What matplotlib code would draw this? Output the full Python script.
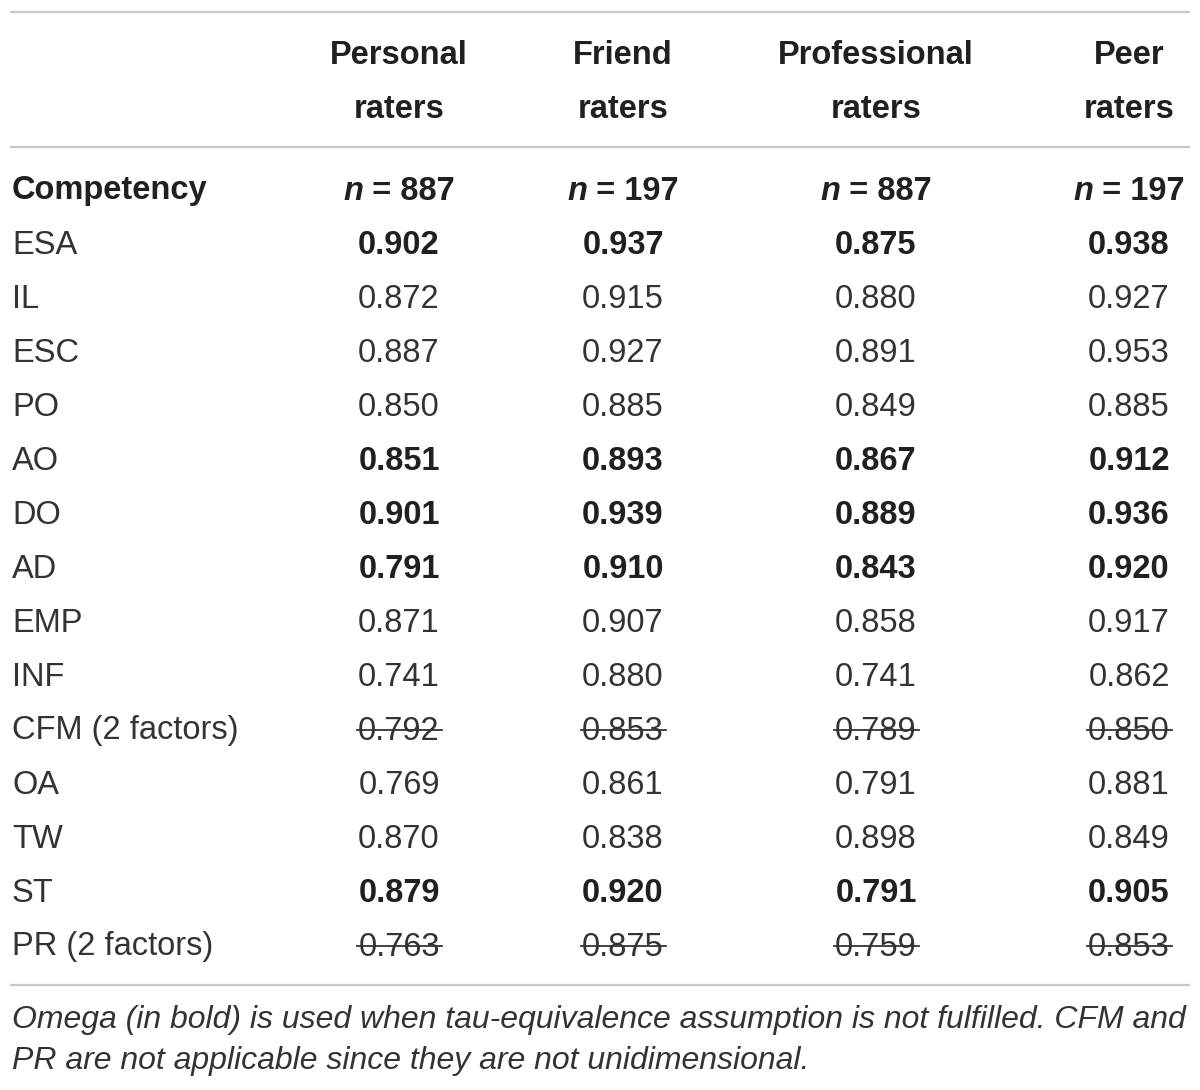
import matplotlib.pyplot as plt

# Table content
columns = ["Personal\nraters", "Friend\nraters", "Professional\nraters", "Peer\nraters"]
sample_sizes = ["887", "197", "887", "197"]
competencies = ["ESA", "IL", "ESC", "PO", "AO", "DO", "AD", "EMP", "INF",
                "CFM (2 factors)", "OA", "TW", "ST", "PR (2 factors)"]
personal = ["0.902", "0.872", "0.887", "0.850", "0.851", "0.901", "0.791", "0.871",
            "0.741", "0.792", "0.769", "0.870", "0.879", "0.763"]
friend = ["0.937", "0.915", "0.927", "0.885", "0.893", "0.939", "0.910", "0.907",
          "0.880", "0.853", "0.861", "0.838", "0.920", "0.875"]
professional = ["0.875", "0.880", "0.891", "0.849", "0.867", "0.889", "0.843", "0.858",
                "0.741", "0.789", "0.791", "0.898", "0.791", "0.759"]
peer = ["0.938", "0.927", "0.953", "0.885", "0.912", "0.936", "0.920", "0.917",
        "0.862", "0.850", "0.881", "0.849", "0.905", "0.853"]
omega_rows = ["ESA", "AO", "DO", "AD", "ST"]          # shown in bold
not_applicable = ["CFM (2 factors)", "PR (2 factors)"]  # struck through
footnote = ["Omega (in bold) is used when tau-equivalence assumption is not fulfilled. CFM and",
            "PR are not applicable since they are not unidimensional."]

plt.rcParams['font.family'] = ['Liberation Sans', 'DejaVu Sans']

ink = "#231f20"
light_ink = "#333333"
rule = "#c8c8c8"
fs = 23.5
dy = 3  # va='center' sits a bit high, nudge everything down

fig = plt.figure(figsize=(12, 10.9), dpi=100)
ax = fig.add_axes([0, 0, 1, 1])
ax.set_xlim(0, 1200)
ax.set_ylim(1090, 0)
ax.axis("off")

col_x = [399, 623, 876, 1129]
label_x = 12
row0 = 188
step = 54

# horizontal rules
for y in [12, 147, 985]:
    ax.plot([10, 1190], [y, y], color=rule, lw=1.6, solid_capstyle="butt")

# column headers
for x, c in zip(col_x, columns):
    top, bottom = c.split("\n")
    ax.text(x, 52 + dy, top, ha="center", va="center", fontsize=fs, fontweight="bold", color=ink)
    ax.text(x, 106 + dy, bottom, ha="center", va="center", fontsize=fs, fontweight="bold", color=ink)

# n row
ax.text(label_x, row0 + dy, "Competency", ha="left", va="center", fontsize=fs,
        fontweight="bold", color=ink)
n_parts = []
for x, n in zip(col_x, sample_sizes):
    a = ax.text(x, row0 + dy, "n", ha="left", va="center", fontsize=fs, fontweight="bold",
                style="italic", color=ink)
    b = ax.text(x, row0 + dy, f" = {n}", ha="left", va="center", fontsize=fs,
                fontweight="bold", color=ink)
    n_parts.append((x, a, b))

strikes = []
for i, comp in enumerate(competencies):
    y = row0 + step * (i + 1) + dy
    ax.text(label_x, y, comp, ha="left", va="center", fontsize=fs, color=light_ink)
    bold = comp in omega_rows
    for x, vals in zip(col_x, [personal, friend, professional, peer]):
        t = ax.text(x, y, vals[i], ha="center", va="center", fontsize=fs,
                    fontweight="bold" if bold else "normal",
                    color=ink if bold else light_ink)
        if comp in not_applicable:
            strikes.append(t)

for k, line in enumerate(footnote):
    ax.text(label_x, 1017 + 41 * k + dy, line, ha="left", va="center", fontsize=fs - 0.5,
            style="italic", color=light_ink)

fig.canvas.draw()
inv = ax.transData.inverted()


def width_of(t):
    bb = t.get_window_extent()
    (x0, _), (x1, _) = inv.transform([[bb.x0, bb.y0], [bb.x1, bb.y1]])
    return x1 - x0


for x, a, b in n_parts:
    wa, wb = width_of(a), width_of(b)
    left = x - (wa + wb) / 2
    a.set_x(left)
    b.set_x(left + wa)

for t in strikes:
    bb = t.get_window_extent()
    (x0, y0), (x1, y1) = inv.transform([[bb.x0, bb.y0], [bb.x1, bb.y1]])
    ym = y0 + (y1 - y0) * 0.52
    ax.plot([x0 - 1, x1 + 2], [ym, ym], color=light_ink, lw=1.3)

fig.savefig("out.png", dpi=100, facecolor="white")
